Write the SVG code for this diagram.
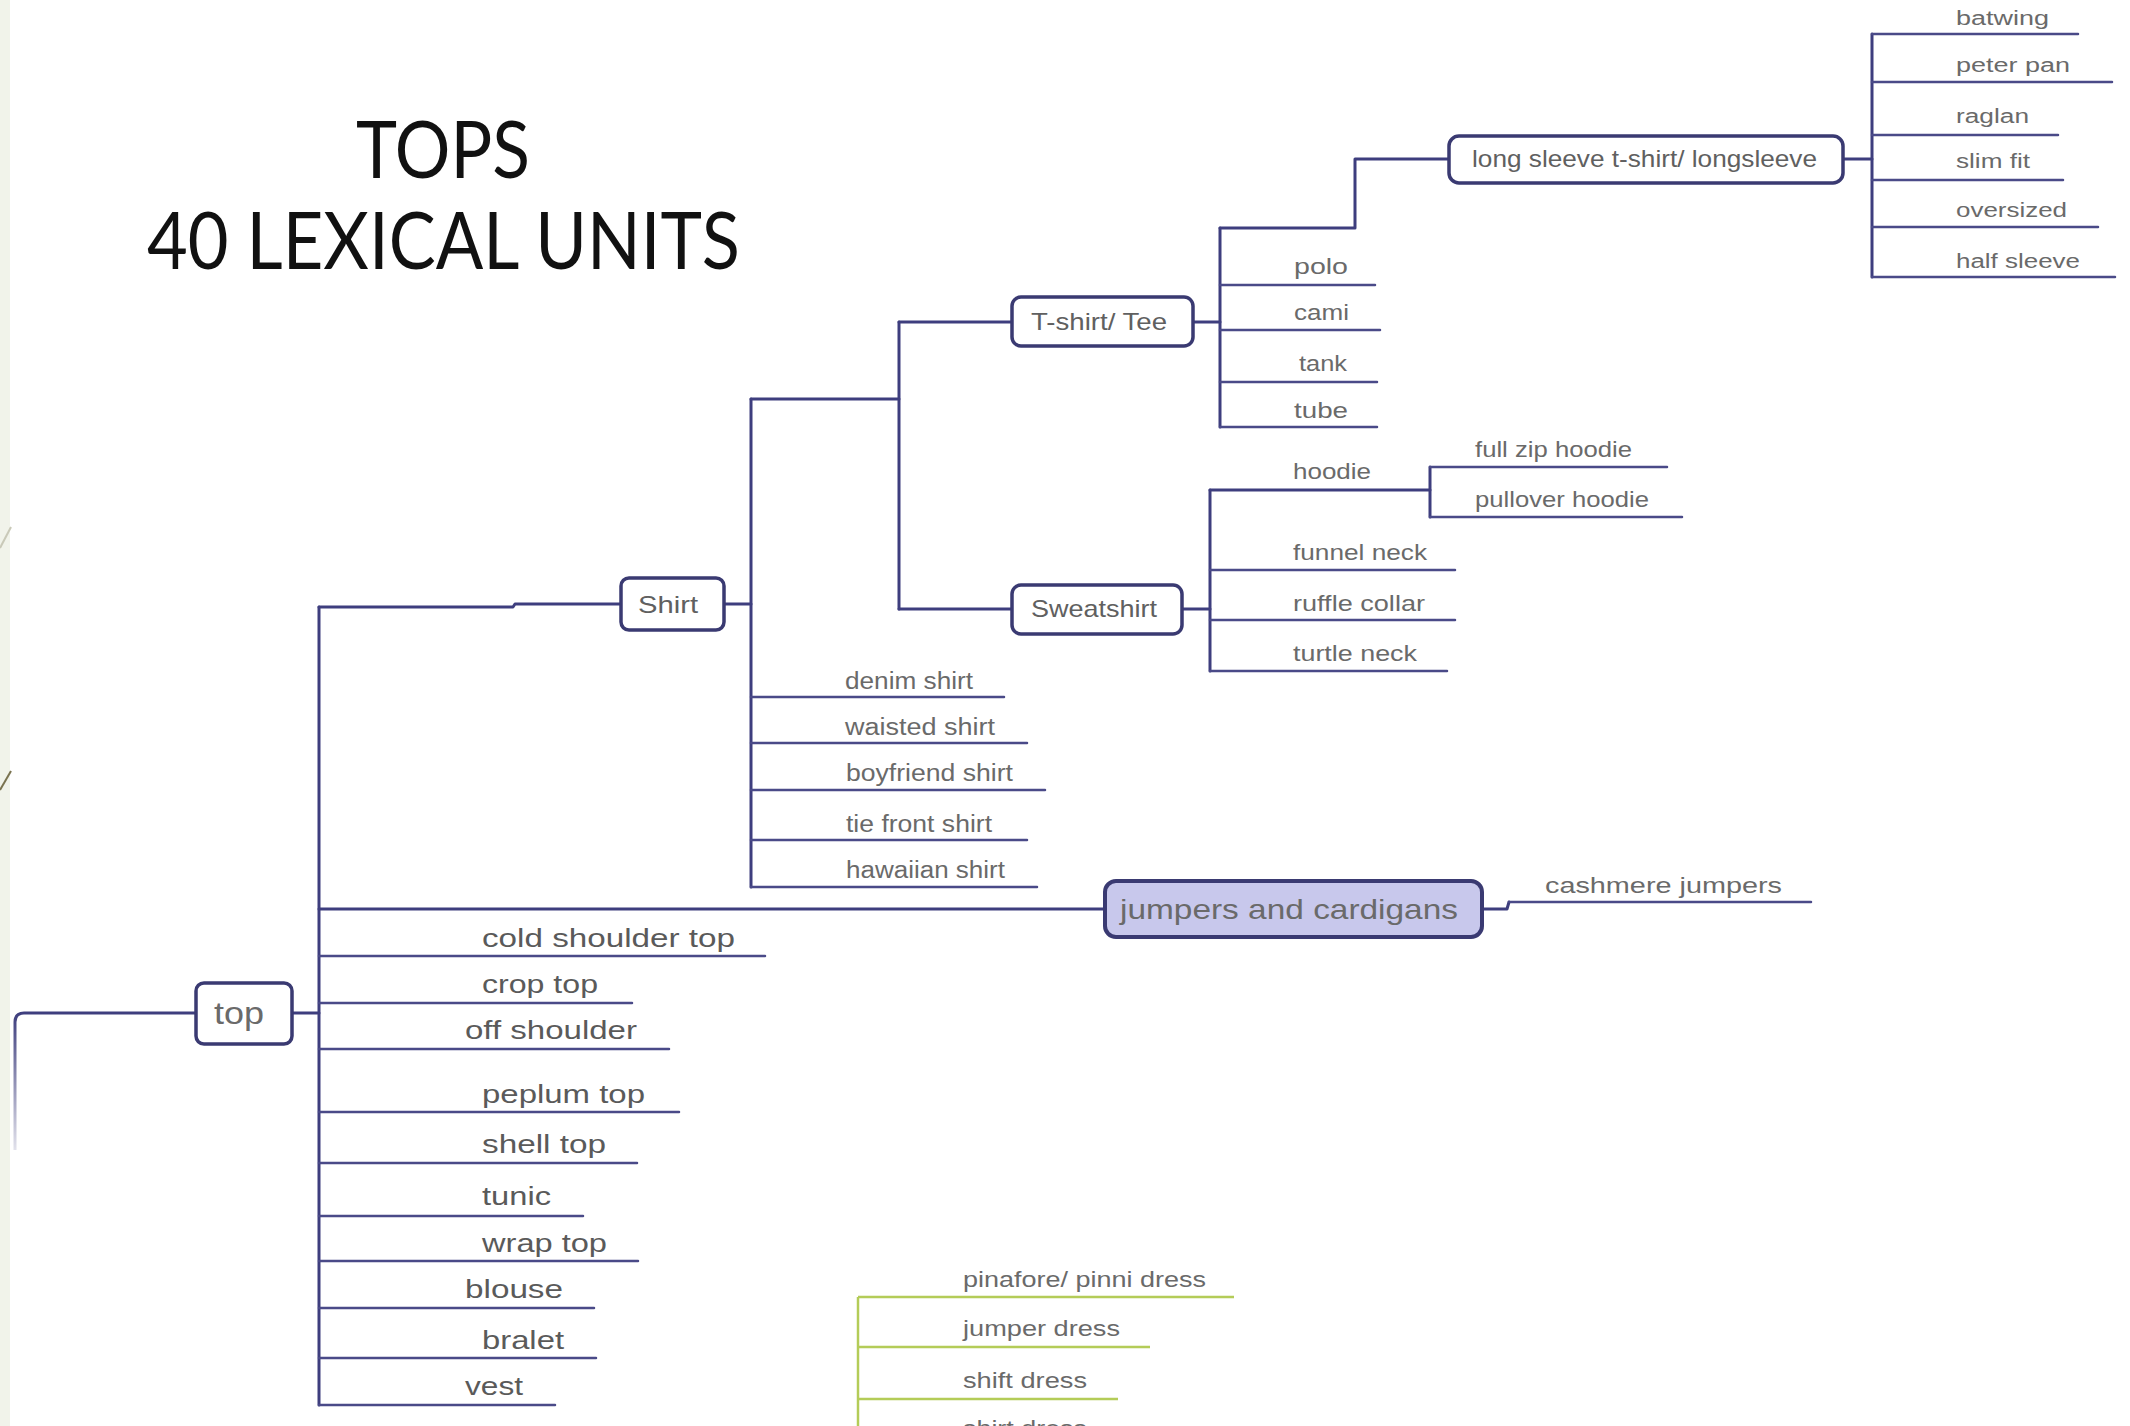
<svg xmlns="http://www.w3.org/2000/svg" width="2130" height="1426" viewBox="0 0 2130 1426">
  <defs>
    <style>
      .c { stroke:#3e3e7e; stroke-width:3; fill:none; stroke-linecap:round; stroke-linejoin:round; }
      .lf { stroke:#4a4a88; stroke-width:2.5; fill:none; stroke-linecap:round; }
      .gr { stroke:#b4cc58; stroke-width:2.5; fill:none; }
      .box { fill:#ffffff; stroke:#3a3a72; stroke-width:3.5; }
      .hub { fill:#c8c8ec; stroke:#3a3a72; stroke-width:4; }
      .t { font-family:"Liberation Sans", Arial, sans-serif; fill:#6a6a6a; }
      .l1 { font-size:26px; fill:#5a5a5a; }
      .l2 { font-size:23px; }
      .l3 { font-size:22px; }
      .l4 { font-size:20px; }
      .bt { font-size:24px; fill:#606060; }
      .title { font-family:Lato, "Liberation Sans", sans-serif; font-size:80px; fill:#111111; }
    </style>
    <linearGradient id="fade" gradientUnits="userSpaceOnUse" x1="0" y1="1013" x2="0" y2="1150">
      <stop offset="0" stop-color="#3e3e7e" stop-opacity="1"/>
      <stop offset="1" stop-color="#3e3e7e" stop-opacity="0.15"/>
    </linearGradient>
  </defs>

  <!-- page background and slide edge -->
  <rect x="0" y="0" width="2130" height="1426" fill="#ffffff"/>
  <rect x="0" y="0" width="10" height="1426" fill="#f1f3ea"/>
  <line x1="0" y1="548" x2="11" y2="527" stroke="#c9c9b8" stroke-width="2"/>
  <line x1="0" y1="790" x2="11" y2="771" stroke="#7a7350" stroke-width="2"/>

  <!-- heading -->
  <g id="title">
    <text class="title" x="356" y="178" textLength="174" lengthAdjust="spacingAndGlyphs">TOPS</text>
    <text class="title" x="147" y="269" textLength="593" lengthAdjust="spacingAndGlyphs">40 LEXICAL UNITS</text>
  </g>

  <!-- connectors -->
  <g id="connectors">
    <!-- incoming edge to "top" -->
    <path d="M196,1013 H24 Q15,1013 15,1022 V1150" stroke="url(#fade)" stroke-width="3" fill="none"/>
    <!-- main trunk -->
    <line class="c" x1="292" y1="1013" x2="319" y2="1013"/>
    <line class="c" x1="319" y1="607" x2="319" y2="1405"/>
    <path class="c" d="M319,607 H513 L515,604 H621"/>
    <line class="c" x1="319" y1="909" x2="1105" y2="909"/>
    <!-- top-level leaves -->
    <line class="lf" x1="319" y1="956" x2="765" y2="956"/>
    <line class="lf" x1="319" y1="1003" x2="632" y2="1003"/>
    <line class="lf" x1="319" y1="1049" x2="669" y2="1049"/>
    <line class="lf" x1="319" y1="1112" x2="679" y2="1112"/>
    <line class="lf" x1="319" y1="1163" x2="637" y2="1163"/>
    <line class="lf" x1="319" y1="1216" x2="583" y2="1216"/>
    <line class="lf" x1="319" y1="1261" x2="638" y2="1261"/>
    <line class="lf" x1="319" y1="1308" x2="594" y2="1308"/>
    <line class="lf" x1="319" y1="1358" x2="596" y2="1358"/>
    <line class="lf" x1="319" y1="1405" x2="555" y2="1405"/>

    <!-- Shirt branch -->
    <line class="c" x1="724" y1="604" x2="751" y2="604"/>
    <line class="c" x1="751" y1="399" x2="751" y2="887"/>
    <line class="c" x1="751" y1="399" x2="899" y2="399"/>
    <line class="lf" x1="751" y1="697" x2="1004" y2="697"/>
    <line class="lf" x1="751" y1="743" x2="1027" y2="743"/>
    <line class="lf" x1="751" y1="790" x2="1045" y2="790"/>
    <line class="lf" x1="751" y1="840" x2="1027" y2="840"/>
    <line class="lf" x1="751" y1="887" x2="1037" y2="887"/>

    <!-- T-shirt / Sweatshirt split -->
    <line class="c" x1="899" y1="322" x2="899" y2="609"/>
    <line class="c" x1="899" y1="322" x2="1012" y2="322"/>
    <line class="c" x1="899" y1="609" x2="1012" y2="609"/>

    <!-- T-shirt/ Tee branch -->
    <line class="c" x1="1193" y1="322" x2="1220" y2="322"/>
    <line class="c" x1="1220" y1="228" x2="1220" y2="427"/>
    <path class="c" d="M1220,228 H1355 V159 H1449"/>
    <line class="lf" x1="1220" y1="285" x2="1375" y2="285"/>
    <line class="lf" x1="1220" y1="330" x2="1380" y2="330"/>
    <line class="lf" x1="1220" y1="382" x2="1377" y2="382"/>
    <line class="lf" x1="1220" y1="427" x2="1377" y2="427"/>

    <!-- long sleeve branch -->
    <line class="c" x1="1843" y1="159" x2="1872" y2="159"/>
    <line class="c" x1="1872" y1="34" x2="1872" y2="277"/>
    <line class="lf" x1="1872" y1="34" x2="2078" y2="34"/>
    <line class="lf" x1="1872" y1="82" x2="2112" y2="82"/>
    <line class="lf" x1="1872" y1="135" x2="2058" y2="135"/>
    <line class="lf" x1="1872" y1="180" x2="2063" y2="180"/>
    <line class="lf" x1="1872" y1="227" x2="2098" y2="227"/>
    <line class="lf" x1="1872" y1="277" x2="2115" y2="277"/>

    <!-- Sweatshirt branch -->
    <line class="c" x1="1182" y1="609" x2="1210" y2="609"/>
    <line class="c" x1="1210" y1="490" x2="1210" y2="671"/>
    <line class="c" x1="1210" y1="490" x2="1430" y2="490"/>
    <line class="c" x1="1430" y1="467" x2="1430" y2="517"/>
    <line class="lf" x1="1430" y1="467" x2="1667" y2="467"/>
    <line class="lf" x1="1430" y1="517" x2="1682" y2="517"/>
    <line class="lf" x1="1210" y1="570" x2="1455" y2="570"/>
    <line class="lf" x1="1210" y1="620" x2="1455" y2="620"/>
    <line class="lf" x1="1210" y1="671" x2="1447" y2="671"/>

    <!-- jumpers and cardigans branch -->
    <path class="c" d="M1482,909 H1507 L1509,902"/>
    <line class="lf" x1="1509" y1="902" x2="1811" y2="902"/>

    <!-- dresses branch -->
    <line class="gr" x1="858" y1="1297" x2="858" y2="1426"/>
    <line class="gr" x1="858" y1="1297" x2="1234" y2="1297"/>
    <line class="gr" x1="858" y1="1347" x2="1150" y2="1347"/>
    <line class="gr" x1="858" y1="1399" x2="1118" y2="1399"/>
  </g>

  <!-- boxed nodes -->
  <g id="node-top">
    <rect class="box" x="196" y="983" width="96" height="61" rx="8"/>
    <text class="t" x="214" y="1024" font-size="31" fill="#5a5a5a" textLength="50" lengthAdjust="spacingAndGlyphs">top</text>
  </g>
  <g id="node-shirt">
    <rect class="box" x="621" y="578" width="103" height="52" rx="8"/>
    <text class="t bt" x="638" y="613" textLength="60" lengthAdjust="spacingAndGlyphs">Shirt</text>
  </g>
  <g id="node-tshirt">
    <rect class="box" x="1012" y="297" width="181" height="49" rx="9"/>
    <text class="t bt" x="1031" y="330" textLength="136" lengthAdjust="spacingAndGlyphs">T-shirt/ Tee</text>
  </g>
  <g id="node-sweatshirt">
    <rect class="box" x="1012" y="585" width="170" height="49" rx="9"/>
    <text class="t bt" x="1031" y="617" textLength="126" lengthAdjust="spacingAndGlyphs">Sweatshirt</text>
  </g>
  <g id="node-longsleeve">
    <rect class="box" x="1449" y="136" width="394" height="47" rx="10"/>
    <text class="t bt" x="1472" y="167" textLength="345" lengthAdjust="spacingAndGlyphs">long sleeve t-shirt/ longsleeve</text>
  </g>
  <g id="node-jumpers">
    <rect class="hub" x="1105" y="881" width="377" height="56" rx="11"/>
    <text class="t" x="1120" y="919" font-size="28" fill="#585858" textLength="338" lengthAdjust="spacingAndGlyphs">jumpers and cardigans</text>
  </g>

  <!-- top-level leaves -->
  <g id="leaf-cold-shoulder"><text class="t l1" x="482" y="947" textLength="253" lengthAdjust="spacingAndGlyphs">cold shoulder top</text></g>
  <g id="leaf-crop-top"><text class="t l1" x="482" y="993" textLength="116" lengthAdjust="spacingAndGlyphs">crop top</text></g>
  <g id="leaf-off-shoulder"><text class="t l1" x="465" y="1039" textLength="172" lengthAdjust="spacingAndGlyphs">off shoulder</text></g>
  <g id="leaf-peplum"><text class="t l1" x="482" y="1103" textLength="163" lengthAdjust="spacingAndGlyphs">peplum top</text></g>
  <g id="leaf-shell"><text class="t l1" x="482" y="1153" textLength="124" lengthAdjust="spacingAndGlyphs">shell top</text></g>
  <g id="leaf-tunic"><text class="t l1" x="482" y="1205" textLength="69" lengthAdjust="spacingAndGlyphs">tunic</text></g>
  <g id="leaf-wrap"><text class="t l1" x="482" y="1252" textLength="125" lengthAdjust="spacingAndGlyphs">wrap top</text></g>
  <g id="leaf-blouse"><text class="t l1" x="465" y="1298" textLength="98" lengthAdjust="spacingAndGlyphs">blouse</text></g>
  <g id="leaf-bralet"><text class="t l1" x="482" y="1349" textLength="82" lengthAdjust="spacingAndGlyphs">bralet</text></g>
  <g id="leaf-vest"><text class="t l1" x="465" y="1395" textLength="58" lengthAdjust="spacingAndGlyphs">vest</text></g>

  <!-- shirt leaves -->
  <g id="leaf-denim"><text class="t l2" x="845" y="689" textLength="128" lengthAdjust="spacingAndGlyphs">denim shirt</text></g>
  <g id="leaf-waisted"><text class="t l2" x="845" y="735" textLength="150" lengthAdjust="spacingAndGlyphs">waisted shirt</text></g>
  <g id="leaf-boyfriend"><text class="t l2" x="846" y="781" textLength="167" lengthAdjust="spacingAndGlyphs">boyfriend shirt</text></g>
  <g id="leaf-tie-front"><text class="t l2" x="846" y="832" textLength="146" lengthAdjust="spacingAndGlyphs">tie front shirt</text></g>
  <g id="leaf-hawaiian"><text class="t l2" x="846" y="878" textLength="159" lengthAdjust="spacingAndGlyphs">hawaiian shirt</text></g>

  <!-- tee leaves -->
  <g id="leaf-polo"><text class="t l3" x="1294" y="274" textLength="54" lengthAdjust="spacingAndGlyphs">polo</text></g>
  <g id="leaf-cami"><text class="t l3" x="1294" y="320" textLength="55" lengthAdjust="spacingAndGlyphs">cami</text></g>
  <g id="leaf-tank"><text class="t l3" x="1299" y="371" textLength="48" lengthAdjust="spacingAndGlyphs">tank</text></g>
  <g id="leaf-tube"><text class="t l3" x="1294" y="418" textLength="54" lengthAdjust="spacingAndGlyphs">tube</text></g>

  <!-- long sleeve leaves -->
  <g id="leaf-batwing"><text class="t l4" x="1956" y="25" textLength="93" lengthAdjust="spacingAndGlyphs">batwing</text></g>
  <g id="leaf-peter-pan"><text class="t l4" x="1956" y="72" textLength="114" lengthAdjust="spacingAndGlyphs">peter pan</text></g>
  <g id="leaf-raglan"><text class="t l4" x="1956" y="123" textLength="73" lengthAdjust="spacingAndGlyphs">raglan</text></g>
  <g id="leaf-slim-fit"><text class="t l4" x="1956" y="168" textLength="74" lengthAdjust="spacingAndGlyphs">slim fit</text></g>
  <g id="leaf-oversized"><text class="t l4" x="1956" y="217" textLength="111" lengthAdjust="spacingAndGlyphs">oversized</text></g>
  <g id="leaf-half-sleeve"><text class="t l4" x="1956" y="268" textLength="124" lengthAdjust="spacingAndGlyphs">half sleeve</text></g>

  <!-- sweatshirt leaves -->
  <g id="leaf-hoodie"><text class="t l3" x="1293" y="479" textLength="78" lengthAdjust="spacingAndGlyphs">hoodie</text></g>
  <g id="leaf-full-zip"><text class="t l3" x="1475" y="457" textLength="157" lengthAdjust="spacingAndGlyphs">full zip hoodie</text></g>
  <g id="leaf-pullover"><text class="t l3" x="1475" y="507" textLength="174" lengthAdjust="spacingAndGlyphs">pullover hoodie</text></g>
  <g id="leaf-funnel"><text class="t l3" x="1293" y="560" textLength="134" lengthAdjust="spacingAndGlyphs">funnel neck</text></g>
  <g id="leaf-ruffle"><text class="t l3" x="1293" y="611" textLength="132" lengthAdjust="spacingAndGlyphs">ruffle collar</text></g>
  <g id="leaf-turtle"><text class="t l3" x="1293" y="661" textLength="124" lengthAdjust="spacingAndGlyphs">turtle neck</text></g>

  <!-- jumpers leaf -->
  <g id="leaf-cashmere"><text class="t l3" x="1545" y="893" textLength="237" lengthAdjust="spacingAndGlyphs">cashmere jumpers</text></g>

  <!-- dress leaves -->
  <g id="leaf-pinafore"><text class="t l3" x="963" y="1287" textLength="243" lengthAdjust="spacingAndGlyphs">pinafore/ pinni dress</text></g>
  <g id="leaf-jumper-dress"><text class="t l3" x="963" y="1336" textLength="157" lengthAdjust="spacingAndGlyphs">jumper dress</text></g>
  <g id="leaf-shift-dress"><text class="t l3" x="963" y="1388" textLength="124" lengthAdjust="spacingAndGlyphs">shift dress</text></g>
  <g id="leaf-shirt-dress"><text class="t l3" x="963" y="1436" textLength="124" lengthAdjust="spacingAndGlyphs">shirt dress</text></g>
</svg>
